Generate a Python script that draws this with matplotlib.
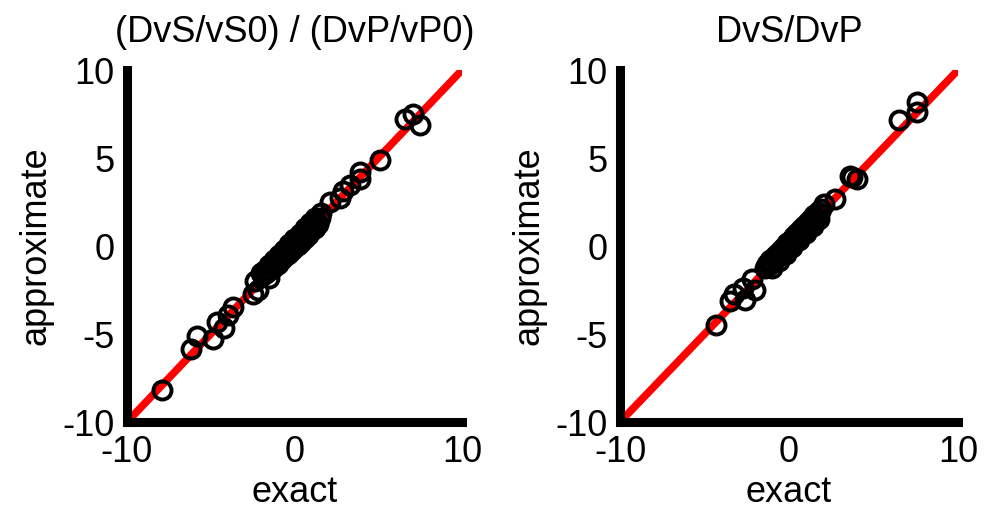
import matplotlib
matplotlib.use("Agg")
import matplotlib.pyplot as plt

plt.rcParams["font.family"] = ["Liberation Sans", "DejaVu Sans"]
plt.rcParams["axes.unicode_minus"] = False

# left panel: (DvS/vS0) / (DvP/vP0)
left_exact = [
    -7.9, -6.2, -5.8, -4.85, -4.65, -4.2, -3.95, -3.65, -2.45, -2.35, -2.15, -1.55,
    -2.0, -1.9, -1.8, -1.7, -1.6, -1.45, -1.35, -1.25, -1.1, -1.0, -0.9, -0.8,
    -0.7, -0.6, -0.5, -0.4, -0.3, -0.2, -0.1, 0.0, 0.1, 0.2, 0.3, 0.4, 0.5,
    0.6, 0.7, 0.8, 0.9, 1.0, 1.1, 1.2, 1.3, 1.4, 1.5,
    -1.5, -1.2, -0.9, -0.6, -0.3, 0.0, 0.3, 0.6, 0.9, 1.2,
    1.6, 2.1, 2.7, 2.9, 3.3, 3.9, 3.9, 5.1, 6.6, 7.05, 7.5,
]
left_approx = [
    -8.2, -5.85, -5.1, -5.3, -4.3, -4.65, -3.9, -3.45, -2.75, -2.0, -2.5, -1.8,
    -1.55, -1.65, -1.4, -1.55, -1.3, -1.35, -1.05, -1.2, -0.85, -1.0, -0.7, -0.8,
    -0.5, -0.65, -0.35, -0.45, -0.15, -0.3, 0.05, -0.1, 0.2, 0.05, 0.35, 0.25, 0.6,
    0.45, 0.8, 0.65, 1.0, 0.85, 1.2, 1.05, 1.35, 1.25, 1.6,
    -1.1, -0.8, -0.5, -0.2, 0.1, 0.4, 0.7, 1.0, 1.3, 1.6,
    1.9, 2.5, 2.75, 3.15, 3.45, 4.2, 3.8, 4.9, 7.2, 7.5, 6.85,
]

# right panel: DvS/DvP
right_exact = [
    -4.3, -3.5, -3.25, -2.6, -2.7, -2.2, -2.0, -1.4,
    -1.3, -1.2, -1.1, -1.0, -0.9, -0.8, -0.7, -0.6, -0.5, -0.4, -0.3, -0.2,
    -0.1, 0.0, 0.1, 0.2, 0.3, 0.4, 0.5, 0.6, 0.7, 0.8, 0.9, 1.0, 1.1, 1.2,
    1.3, 1.4, 1.5, 1.6, 1.7, 1.8, 1.9,
    -1.0, -0.6, -0.2, 0.2, 0.6, 1.0, 1.4, 1.8,
    2.05, 2.7, 3.6, 3.75, 4.0, 6.5, 7.55, 7.6,
]
right_approx = [
    -4.5, -3.15, -2.75, -3.05, -2.4, -1.9, -2.5, -1.25,
    -1.0, -1.1, -0.8, -0.95, -0.6, -0.75, -0.45, -0.55, -0.25, -0.4, -0.05, -0.2,
    0.15, 0.0, 0.35, 0.2, 0.55, 0.4, 0.75, 0.6, 0.95, 0.8, 1.15, 1.0, 1.35, 1.2,
    1.55, 1.4, 1.75, 1.6, 1.95, 1.8, 2.1,
    -1.25, -0.85, -0.45, -0.05, 0.35, 0.75, 1.15, 1.55,
    2.4, 2.65, 4.0, 3.9, 3.8, 7.15, 8.2, 7.6,
]

titles = ["(DvS/vS0) / (DvP/vP0)", "DvS/DvP"]
panels = [(left_exact, left_approx), (right_exact, right_approx)]
ref_line = [-10, 10]
x_ticks = [-10, 0, 10]
y_ticks = [-10, -5, 0, 5, 10]

fig = plt.figure(figsize=(9.87, 5.12), dpi=100)
positions = [
    [127 / 987, 1 - 422 / 512, 335 / 987, 352 / 512],
    [620 / 987, 1 - 422 / 512, 338 / 987, 352 / 512],
]

for pos, title, (exact, approx) in zip(positions, titles, panels):
    ax = fig.add_axes(pos)
    ax.plot(ref_line, ref_line, color="red", lw=5.5, solid_capstyle="round", zorder=2)
    ax.plot(exact, approx, "o", mfc="none", mec="black", ms=13, mew=2.8, zorder=3)
    ax.set_xlim(-10, 10)
    ax.set_ylim(-10, 10)
    ax.set_xticks(x_ticks)
    ax.set_yticks(y_ticks)
    for side in ["top", "right"]:
        ax.spines[side].set_visible(False)
    for side in ["left", "bottom"]:
        ax.spines[side].set_linewidth(6.5)
    ax.tick_params(direction="inout", length=6, width=1.2, labelsize=26, pad=6)
    ax.set_xlabel("exact", fontsize=26, labelpad=4)
    ax.set_ylabel("approximate", fontsize=26, labelpad=6)
    ax.set_title(title, fontsize=26, pad=20)

fig.savefig("out.png", dpi=100)
